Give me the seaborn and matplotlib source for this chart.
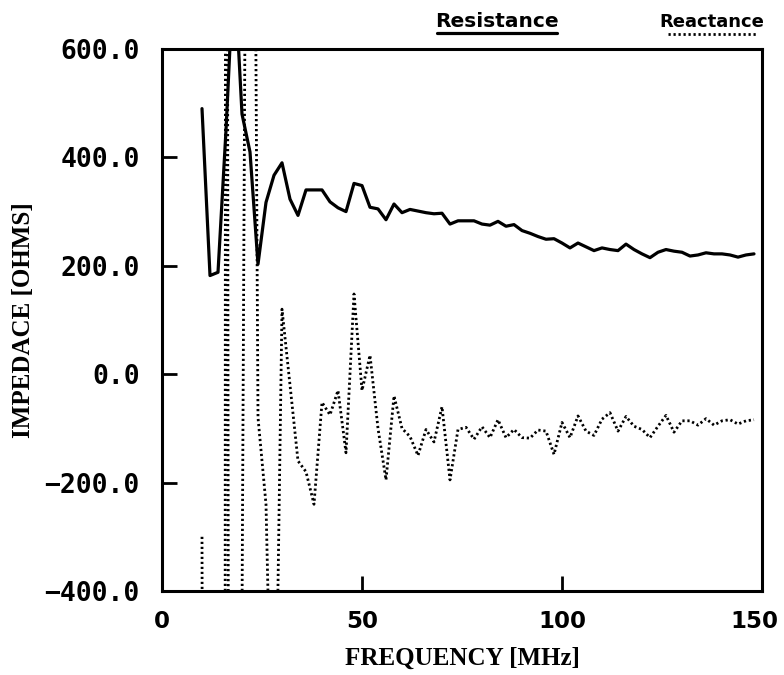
import matplotlib
matplotlib.use("Agg")
import matplotlib.pyplot as plt
import matplotlib.transforms as mtransforms
import seaborn as sns
import numpy as np
import pandas as pd

# ---- data ----
frequency = list(range(10, 150, 2))  # MHz

resistance = [490, 182, 188, 450, 760, 480, 410, 203, 317, 367,
              390, 323, 293, 340, 340, 340, 318, 307, 300, 352,
              348, 308, 305, 285, 314, 298, 304, 301, 298, 296,
              297, 277, 283, 283, 283, 277, 275, 282, 273, 276,
              265, 260, 254, 249, 250, 242, 233, 242, 235, 228,
              233, 230, 228, 240, 230, 222, 215, 225, 230, 227,
              225, 218, 220, 224, 222, 222, 220, 216, 220, 222]

reactance = [-300, -8000, -30000, 3000, -9000, -450, 2500, -80, -240, -900,
             120, -20, -160, -180, -240, -52, -75, -30, -145, 148,
             -30, 35, -100, -195, -40, -100, -115, -150, -102, -125,
             -60, -195, -102, -98, -120, -97, -117, -84, -117, -102,
             -117, -118, -103, -105, -148, -89, -117, -77, -105, -113,
             -83, -71, -105, -78, -96, -102, -117, -96, -76, -107,
             -86, -86, -94, -82, -94, -86, -84, -92, -86, -84]

x_ticks = [0, 50, 100, 150]
x_tick_labels = ["0", "50", "100", "150"]
y_ticks = [-400, -200, 0, 200, 400, 600]
y_tick_labels = ["-400.0", "-200.0", "0.0", "200.0", "400.0", "600.0"]

x_label = "FREQUENCY [MHz]"
y_label = "IMPEDACE [OHMS]"
series_names = ["Resistance", "Reactance"]

df = pd.DataFrame({"frequency": frequency,
                   "Resistance": resistance,
                   "Reactance": reactance})

# ---- plot ----
sns.set_style("white")
plt.rcParams["font.family"] = ["DejaVu Sans"]
plt.rcParams["text.color"] = "black"
plt.rcParams["axes.labelcolor"] = "black"
plt.rcParams["xtick.color"] = "black"
plt.rcParams["ytick.color"] = "black"
plt.rcParams["xtick.bottom"] = True
plt.rcParams["ytick.left"] = True

fig = plt.figure(figsize=(7.84, 6.75), dpi=100)
ax = fig.add_axes([162 / 784, 1 - 591 / 675, 600 / 784, 542 / 675])

dot_style = (0, (0.8, 1.0))
sns.lineplot(data=df, x="frequency", y="Resistance", ax=ax, color="black",
             lw=2.3, estimator=None, sort=False)
sns.lineplot(data=df, x="frequency", y="Reactance", ax=ax, color="black",
             lw=2.0, estimator=None, sort=False, dashes=False)
ax.lines[1].set_linestyle(dot_style)

ax.set_xlim(0, 150)
ax.set_ylim(-400, 600)

for s in ax.spines.values():
    s.set_visible(True)
    s.set_color("black")
    s.set_linewidth(2.2)

ax.set_xticks(x_ticks)
ax.set_xticklabels(x_tick_labels, fontfamily="DejaVu Sans", fontweight="bold",
                   fontsize=16.5, color="black")
ax.set_yticks(y_ticks)
ax.set_yticklabels([t.replace("-", "\u2212") for t in y_tick_labels],
                   fontfamily="DejaVu Sans Mono", fontweight="bold", fontsize=19,
                   color="black")
ax.tick_params(axis="both", direction="in", length=11, width=2, color="black",
               labelcolor="black", bottom=True, left=True, top=False, right=False)
ax.tick_params(axis="x", pad=14)
ax.tick_params(axis="y", pad=16)

# nudge the last x tick label inward so it stays inside the figure
last = ax.get_xticklabels()[-1]
last.set_transform(last.get_transform() +
                   mtransforms.ScaledTranslation(-8 / 100, 0, fig.dpi_scale_trans))

ax.set_xlabel(x_label, fontfamily="Liberation Serif", fontweight="bold",
              fontsize=18, color="black")
ax.xaxis.set_label_coords(0.5, -0.103)
ax.set_ylabel(y_label, fontfamily="Liberation Serif", fontweight="bold",
              fontsize=18, color="black")
ax.yaxis.set_label_coords(-0.212, 0.5)

# legend drawn as underlined titles above the axes
ax.text(0.558, 1.05, series_names[0], transform=ax.transAxes, ha="center",
        va="center", fontsize=14.5, fontweight="bold", family="DejaVu Sans",
        color="black")
ax.plot([0.458, 0.658], [1.0295, 1.0295], transform=ax.transAxes,
        color="black", lw=2.3, clip_on=False)
ax.text(0.916, 1.05, series_names[1], transform=ax.transAxes, ha="center",
        va="center", fontsize=13, fontweight="bold", family="DejaVu Sans",
        color="black")
ax.plot([0.843, 0.992], [1.028, 1.028], transform=ax.transAxes,
        color="black", lw=2.0, linestyle=dot_style, clip_on=False)

fig.savefig("out.png", dpi=100)
